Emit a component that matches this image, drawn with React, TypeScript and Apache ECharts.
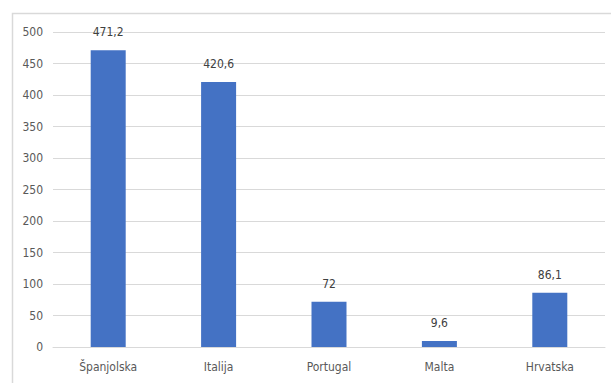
import React, { useEffect, useRef } from "react";
import * as echarts from "echarts";

const categories = ["Španjolska", "Italija", "Portugal", "Malta", "Hrvatska"];
const values = [471.2, 420.6, 72, 9.6, 86.1];
const yTicks = { min: 0, max: 500, interval: 50 };

const FONT = "'DejaVu Sans Condensed', 'Liberation Sans Narrow', sans-serif";

export default function App() {
  const ref = useRef<HTMLDivElement>(null);
  useEffect(() => {
    if (!ref.current) return;
    const chart = echarts.init(ref.current, null, { renderer: "svg" });
    chart.setOption({
      animation: false,
      backgroundColor: "#ffffff",
      graphic: [
        {
          type: "rect",
          shape: { x: 12.5, y: 13.5, width: 640, height: 420 },
          style: { fill: "none", stroke: "#d9d9d9", lineWidth: 1.5 },
          silent: true,
        },
      ],
      grid: { left: 53, right: 6, top: 32, bottom: 36 },
      xAxis: {
        type: "category",
        data: categories,
        axisLine: { show: true, lineStyle: { color: "#d9d9d9", width: 1 } },
        axisTick: { show: false },
        axisLabel: { color: "#595959", fontFamily: FONT, fontSize: 12, margin: 14 },
      },
      yAxis: {
        type: "value",
        min: yTicks.min,
        max: yTicks.max,
        interval: yTicks.interval,
        axisLine: { show: false },
        axisTick: { show: false },
        splitLine: { lineStyle: { color: "#d9d9d9", width: 1 } },
        axisLabel: { color: "#595959", fontFamily: FONT, fontSize: 12, margin: 10 },
      },
      series: [
        {
          type: "bar",
          data: values,
          barWidth: 35,
          itemStyle: { color: "#4472c4" },
          label: {
            show: true,
            position: "top",
            distance: 12,
            color: "#404040",
            fontFamily: FONT,
            fontSize: 12,
            formatter: (p: any) => String(p.value).replace(".", ","),
          },
        },
      ],
    });
    return () => chart.dispose();
  }, []);
  return (
    <div
      ref={ref}
      style={{ position: "fixed", left: 0, top: 0, width: 611, height: 383 }}
    />
  );
}
